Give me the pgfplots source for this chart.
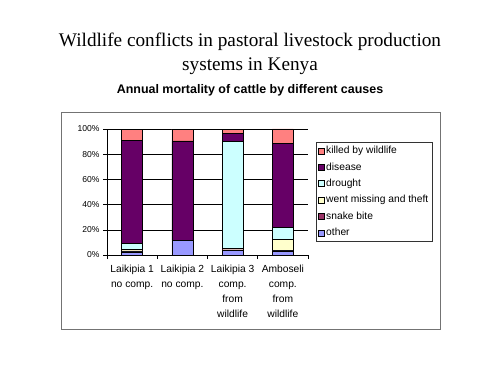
\documentclass[border=0pt]{standalone}
\usepackage{pgfplots}
\pgfplotsset{compat=1.18}
\usepackage{fontspec}
\setmainfont{Liberation Sans}
\newfontfamily\timesf{Liberation Serif}
\definecolor{cKill}{HTML}{FF8080}
\definecolor{cDis}{HTML}{660066}
\definecolor{cDro}{HTML}{CCFFFF}
\definecolor{cMis}{HTML}{FFFFCC}
\definecolor{cSna}{HTML}{993366}
\definecolor{cOth}{HTML}{9999FF}
\begin{document}
\begin{tikzpicture}[x=1bp,y=1bp]
\fill[white] (0,0) rectangle (500,375);
\node[font=\timesf\fontsize{19.3}{24}\selectfont, align=center] at (250,321) {Wildlife conflicts in pastoral livestock production\\systems in Kenya};
\node[font=\bfseries\fontsize{12.5}{15}\selectfont] at (250,285) {Annual mortality of cattle by different causes};
\draw[black!55, line width=0.8pt] (61,46) rectangle (440,263);
\begin{axis}[
  at={(107bp,120bp)}, anchor=south west,
  scale only axis, width=201bp, height=126bp,
  ybar stacked, bar width=21bp,
  xmin=-0.5, xmax=3.5, ymin=0, ymax=100,
  axis x line*=bottom, axis y line*=left,
  axis line style={black, line width=0.6pt},
  xtick={0,1,2,3},
  xticklabels={{Laikipia 1\\no comp.},{Laikipia 2\\no comp.},{Laikipia 3\\comp.\\from\\wildlife},{Amboseli\\comp.\\from\\wildlife}},
  xticklabel style={align=center, font=\fontsize{10.3}{15}\selectfont, yshift=-3bp},
  major x tick style={draw=none},
  minor xtick={-0.5,0.5,1.5,2.5,3.5},
  minor tick length=4bp,
  minor x tick style={black, line width=0.6pt},
  ytick={0,20,40,60,80,100},
  yticklabel={\pgfmathprintnumber{\tick}\%},
  /pgf/number format/assume math mode=true,
  yticklabel style={font=\fontsize{8.6}{10}\selectfont},
  major tick length=4bp,
  tick align=outside,
  major y tick style={black, line width=0.6pt},
  ymajorgrids, grid style={black, line width=0.6pt},
  reverse legend,
  legend cell align=left,
  legend style={at={(rel axis cs:1.04,0.897)}, anchor=north west,
    draw=black!80, line width=0.6pt, font=\fontsize{10.3}{12}\selectfont,
    row sep=3.5bp, inner xsep=1.5bp, inner ysep=2bp,
    /tikz/every even column/.append style={column sep=0bp}},
  legend image code/.code={\draw[#1, draw=black, line width=0.4pt] (0bp,-3bp) rectangle (6bp,3bp);},
]
\addplot[fill=cOth, draw=black, line width=0.4pt] coordinates {(0,2.5) (1,11.6) (2,3.7) (3,3.2)};
\addplot[fill=cSna, draw=black, line width=0.4pt] coordinates {(0,0.8) (1,0) (2,0.5) (3,0.4)};
\addplot[fill=cMis, draw=black, line width=0.4pt] coordinates {(0,1.2) (1,0) (2,1.3) (3,8.6)};
\addplot[fill=cDro, draw=black, line width=0.4pt] coordinates {(0,4.5) (1,0) (2,84.7) (3,9.5)};
\addplot[fill=cDis, draw=black, line width=0.4pt] coordinates {(0,82.0) (1,78.9) (2,6.6) (3,66.7)};
\addplot[fill=cKill, draw=black, line width=0.4pt] coordinates {(0,9.0) (1,9.5) (2,3.2) (3,11.6)};
\legend{other, snake bite, went missing and theft, drought, disease, killed by wildlife}
\end{axis}
\end{tikzpicture}
\end{document}
